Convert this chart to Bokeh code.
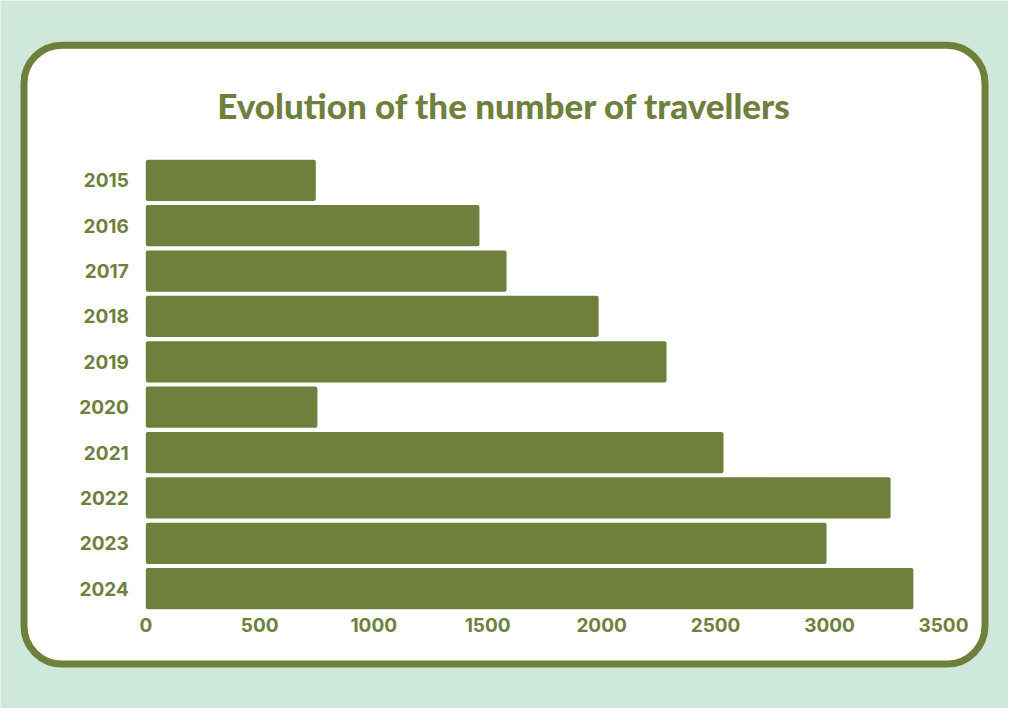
from bokeh.plotting import figure
from bokeh.models import Range1d, FixedTicker, BoxAnnotation, Label
from bokeh.embed import file_html
from bokeh.resources import INLINE

# ---- data ----
years = ["2015", "2016", "2017", "2018", "2019", "2020", "2021", "2022", "2023", "2024"]
travellers = [746, 1464, 1583, 1987, 2285, 753, 2535, 3268, 2987, 3368]
x_ticks = [0, 500, 1000, 1500, 2000, 2500, 3000, 3500]
title_text = "Evolution of the number of travellers"

# ---- style ----
OLIVE = "#6e803b"
MINT = "#cfe8dc"
W, H = 1008, 708

# pixel geometry (figure pixels) used for range set-up
X0_PX, PX_PER_UNIT = 145.3, 0.2279      # x=0 position, scale
Y0_PX, PX_PER_ROW = 179.8, 45.38        # first row center, row pitch

def x_at(px):
    return (px - X0_PX) / PX_PER_UNIT

def y_at(px):
    return (px - Y0_PX) / PX_PER_ROW

positions = list(range(len(years)))

p = figure(width=W, height=H, output_backend="svg", toolbar_location=None,
           x_range=Range1d(x_at(0), x_at(W)),
           y_range=Range1d(y_at(H), y_at(0)),
           min_border=0, min_border_left=0, min_border_right=0,
           min_border_top=0, min_border_bottom=0)
p.background_fill_color = MINT
p.border_fill_color = MINT
p.outline_line_color = None
p.grid.visible = False

# card
card = BoxAnnotation(left=x_at(23.5), right=x_at(984.5), top=y_at(44.7), bottom=y_at(663.6),
                     fill_color="white", fill_alpha=1.0,
                     line_color=OLIVE, line_width=7, line_alpha=1.0,
                     border_radius=38, level="underlay")
p.add_layout(card)

# bars
p.hbar(y=positions, right=travellers, left=0, height=0.91,
       fill_color=OLIVE, line_color=None, border_radius=2)

# axes
xa = p.xaxis[0]
xa.fixed_location = len(years) - 0.5
xa.ticker = FixedTicker(ticks=x_ticks)
ya = p.yaxis[0]
ya.fixed_location = 0
ya.ticker = FixedTicker(ticks=positions)
ya.major_label_overrides = {i: y for i, y in enumerate(years)}
for ax in (xa, ya):
    ax.axis_line_color = None
    ax.major_tick_line_color = None
    ax.minor_tick_line_color = None
    ax.major_tick_out = 0
    ax.major_tick_in = 0
    ax.minor_tick_out = 0
    ax.major_label_text_color = OLIVE
    ax.major_label_text_font = "Inter"
    ax.major_label_text_font_style = "bold"
    ax.major_label_text_font_size = "19px"
xa.major_label_standoff = 7
ya.major_label_standoff = 17

# title
p.add_layout(Label(x=x_at(504), y=y_at(104), text=title_text,
                   text_align="center", text_baseline="middle",
                   text_color=OLIVE, text_font="'Lato Black', Lato", text_font_style="bold",
                   text_font_size="35px"))

html = file_html(p, INLINE)
html = html.replace("<body>", '<body style="background-color:%s;">' % MINT, 1)
open("out.html", "w").write(html)
